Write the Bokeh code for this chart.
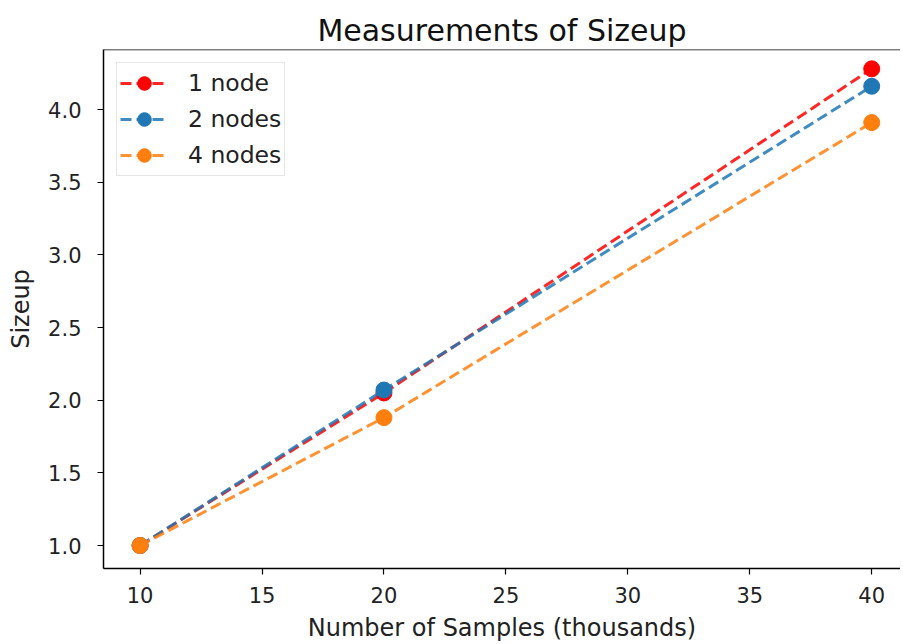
from bokeh.plotting import figure
from bokeh.models import Range1d, Span, FixedTicker, PrintfTickFormatter
from bokeh.embed import file_html
from bokeh.resources import INLINE

# Data
samples = [10, 20, 40]
one_node = [1.0, 2.05, 4.28]
two_nodes = [1.0, 2.07, 4.16]
four_nodes = [1.0, 1.88, 3.91]
labels = ["1 node", "2 nodes", "4 nodes"]
colors = ["#ff0000", "#1f77b4", "#ff7f0e"]
x_ticks = [10, 15, 20, 25, 30, 35, 40]
y_ticks = [1.0, 1.5, 2.0, 2.5, 3.0, 3.5, 4.0]

FONT = "DejaVu Sans"

p = figure(width=900, height=644, output_backend="svg", toolbar_location=None,
           x_range=Range1d(8.5, 41.18), y_range=Range1d(0.842, 4.413),
           title="Measurements of Sizeup",
           min_border_left=103, min_border_right=0, min_border_top=49, min_border_bottom=76)

p.title.align = "center"
p.title.text_font = FONT
p.title.text_font_size = "30px"
p.title.text_font_style = "normal"
p.title.text_color = "#111111"
p.title.standoff = 4

for data, lab, col in zip([one_node, two_nodes, four_nodes], labels, colors):
    p.line(samples, data, line_color=col, line_width=3, line_dash="11 5", line_alpha=0.85, legend_label=lab)
    p.scatter(samples, data, marker="circle", size=16, fill_color=col, line_color=col, legend_label=lab)

p.grid.visible = False
p.outline_line_color = None
p.add_layout(Span(location=4.413, dimension="width", line_color="black", line_width=1.5))

for ax in (p.xaxis[0], p.yaxis[0]):
    ax.axis_line_color = "black"
    ax.axis_line_width = 1.5
    ax.major_tick_line_color = "black"
    ax.major_tick_line_width = 1.2
    ax.major_tick_out = 6
    ax.major_tick_in = 0
    ax.minor_tick_line_color = None
    ax.major_label_text_font = FONT
    ax.major_label_text_font_size = "21px"
    ax.major_label_text_color = "#222222"
    ax.axis_label_text_font = FONT
    ax.axis_label_text_font_size = "24px"
    ax.axis_label_text_font_style = "normal"
    ax.axis_label_text_color = "#222222"

p.xaxis[0].ticker = FixedTicker(ticks=x_ticks)
p.yaxis[0].ticker = FixedTicker(ticks=y_ticks)
p.yaxis[0].formatter = PrintfTickFormatter(format="%.1f")
p.xaxis[0].axis_label = "Number of Samples (thousands)"
p.yaxis[0].axis_label = "Sizeup"
p.xaxis[0].major_label_standoff = 12
p.xaxis[0].axis_label_standoff = 8
p.yaxis[0].major_label_standoff = 16
p.yaxis[0].axis_label_standoff = 10

lg = p.legend[0]
lg.location = "top_left"
lg.margin = 13
lg.padding = 3
lg.spacing = 2
lg.glyph_width = 48
lg.glyph_height = 34
lg.label_height = 34
lg.label_standoff = 20
lg.label_text_font = FONT
lg.label_text_font_size = "23.5px"
lg.label_text_color = "#222222"
lg.border_line_color = "#cccccc"
lg.border_line_width = 1
lg.background_fill_alpha = 0.8

open("out.html", "w").write(file_html(p, INLINE))
